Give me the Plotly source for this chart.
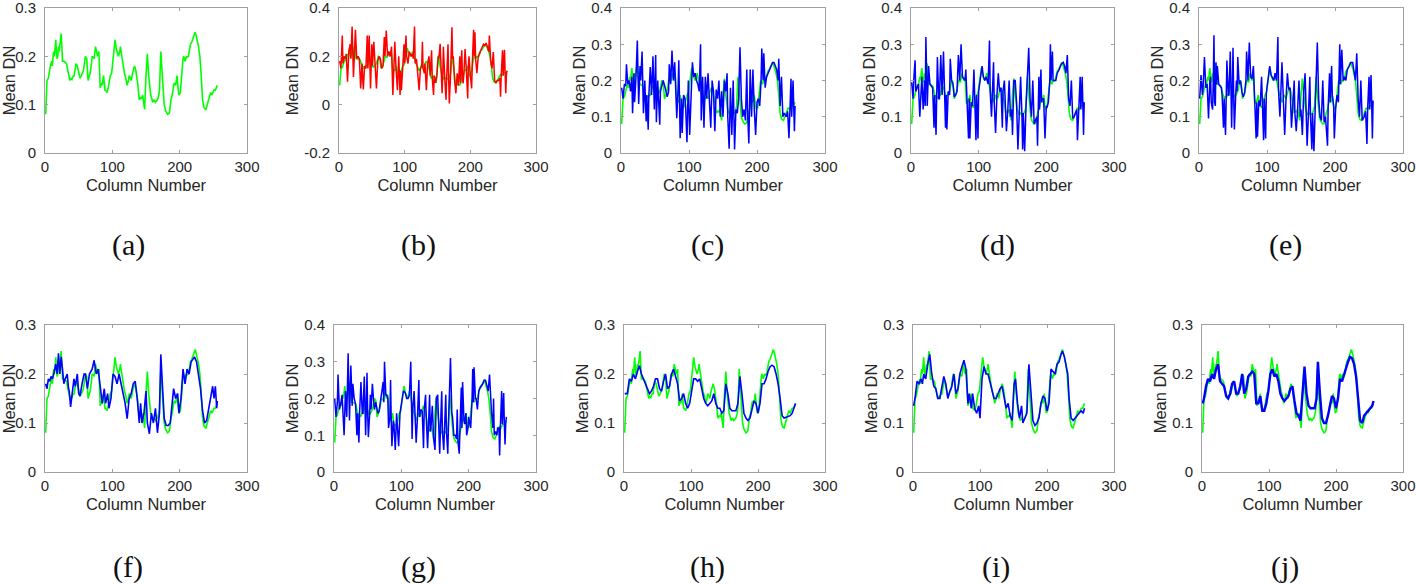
import plotly.graph_objects as go
from plotly.subplots import make_subplots

# ---------------- data (column number, mean DN) ----------------
green_pts = [(1,0.08),(2,0.13),(3,0.15),(5,0.155),(7,0.175),(8,0.18),(10,0.19),(11,0.18),(12,0.2),(13,0.21),(14,0.2),(16,0.234),(17,0.21),(18,0.195),(19,0.2),(20,0.22),(21,0.21),(22,0.22),(24,0.247),(25,0.22),(26,0.19),(28,0.19),(30,0.188),(32,0.185),(34,0.17),(35,0.16),(37,0.15),(38,0.155),(40,0.152),(42,0.16),(43,0.158),(45,0.175),(46,0.185),(48,0.18),(50,0.165),(52,0.155),(54,0.16),(55,0.165),(57,0.17),(59,0.19),(60,0.2),(62,0.195),(63,0.17),(64,0.15),(66,0.16),(67,0.165),(69,0.185),(70,0.2),(72,0.198),(73,0.195),(75,0.22),(77,0.205),(78,0.2),(80,0.21),(81,0.17),(82,0.135),(84,0.145),(85,0.14),(87,0.16),(88,0.145),(89,0.13),(91,0.128),(92,0.125),(94,0.135),(96,0.15),(97,0.16),(99,0.165),(101,0.19),(102,0.2),(104,0.234),(106,0.215),(107,0.21),(109,0.2),(111,0.21),(112,0.22),(113,0.21),(115,0.19),(117,0.17),(118,0.165),(120,0.155),(122,0.14),(124,0.15),(125,0.16),(127,0.155),(128,0.15),(130,0.165),(132,0.175),(133,0.18),(135,0.17),(137,0.155),(138,0.14),(140,0.11),(142,0.115),(143,0.112),(145,0.12),(147,0.1),(148,0.09),(150,0.16),(152,0.205),(154,0.16),(156,0.13),(157,0.12),(159,0.11),(160,0.105),(162,0.11),(164,0.105),(165,0.107),(167,0.11),(169,0.12),(170,0.13),(172,0.21),(173,0.19),(175,0.16),(177,0.1),(179,0.088),(180,0.085),(182,0.08),(184,0.082),(185,0.085),(187,0.11),(189,0.12),(191,0.14),(192,0.145),(194,0.14),(196,0.16),(198,0.13),(199,0.12),(201,0.125),(203,0.17),(205,0.195),(206,0.2),(208,0.19),(210,0.2),(211,0.198),(213,0.2),(215,0.22),(216,0.225),(218,0.23),(220,0.24),(221,0.245),(223,0.25),(225,0.24),(226,0.235),(228,0.22),(229,0.21),(230,0.2),(232,0.16),(234,0.11),(236,0.095),(237,0.092),(239,0.09),(241,0.1),(242,0.105),(244,0.11),(246,0.125),(248,0.12),(249,0.125),(251,0.13),(253,0.13),(255,0.135),(256,0.14)]

b_pts = [(1,0.18),(3,0.15),(5,0.286),(6,0.17),(8,0.2),(10,0.19),(11,0.21),(13,0.095),(15,0.22),(17,0.25),(18,0.19),(20,0.323),(22,0.115),(23,0.2),(25,0.31),(27,0.19),(29,0.2),(31,0.19),(33,0.067),(35,0.17),(37,0.063),(39,0.16),(41,0.15),(43,0.286),(44,0.15),(46,0.286),(48,0.067),(50,0.25),(51,0.16),(53,0.26),(55,0.16),(57,0.067),(59,0.18),(61,0.2),(63,0.19),(65,0.15),(67,0.16),(69,0.28),(70,0.2),(72,0.307),(74,0.2),(76,0.22),(78,0.2),(80,0.24),(82,0.04),(83,0.15),(85,0.26),(87,0.14),(89,0.06),(91,0.2),(93,0.04),(94,0.14),(95,0.06),(97,0.15),(99,0.25),(100,0.17),(102,0.286),(103,0.2),(105,0.17),(107,0.22),(109,0.2),(110,0.2),(112,0.21),(113,0.19),(115,0.323),(116,0.17),(118,0.19),(119,0.16),(120,0.15),(122,0.06),(124,0.15),(126,0.16),(127,0.26),(128,0.15),(130,0.13),(131,0.17),(133,0.06),(135,0.17),(137,0.2),(139,0.12),(141,0.225),(142,0.11),(144,0.04),(145,0.12),(147,0.09),(149,0.12),(151,0.2),(152,0.19),(154,0.252),(155,0.16),(157,0.047),(158,0.12),(159,0.24),(161,0.11),(163,0.02),(164,0.11),(166,0.25),(167,0.11),(168,0.005),(170,0.13),(172,0.32),(173,0.19),(174,0.2),(176,0.1),(178,0.047),(179,0.09),(180,0.13),(182,0.08),(184,0.2),(185,0.09),(187,0.225),(188,0.11),(189,0.088),(190,0.12),(192,0.23),(194,0.14),(196,0.026),(197,0.16),(198,0.2),(200,0.12),(202,0.067),(203,0.17),(205,0.31),(206,0.2),(207,0.3),(208,0.19),(210,0.13),(212,0.2),(215,0.22),(217,0.23),(220,0.25),(222,0.245),(224,0.255),(226,0.24),(228,0.22),(229,0.286),(231,0.18),(233,0.15),(235,0.218),(237,0.1),(239,0.09),(241,0.1),(243,0.1),(245,0.11),(246,0.033),(247,0.12),(249,0.225),(250,0.12),(252,0.227),(253,0.13),(254,0.047),(255,0.13),(256,0.14)]

c_pts = [(1,0.18),(3,0.15),(5,0.19),(7,0.185),(8,0.245),(10,0.19),(12,0.2),(14,0.17),(16,0.21),(17,0.11),(19,0.22),(20,0.14),(22,0.21),(24,0.31),(26,0.135),(28,0.24),(29,0.2),(31,0.28),(33,0.11),(35,0.2),(37,0.087),(38,0.16),(40,0.064),(41,0.16),(43,0.237),(45,0.16),(47,0.267),(49,0.12),(51,0.27),(52,0.085),(54,0.2),(57,0.078),(58,0.17),(60,0.19),(62,0.2),(65,0.18),(68,0.155),(70,0.17),(71,0.245),(73,0.19),(75,0.283),(77,0.2),(79,0.25),(80,0.2),(82,0.096),(84,0.18),(85,0.256),(87,0.041),(89,0.15),(90,0.055),(92,0.16),(94,0.15),(95,0.13),(97,0.03),(99,0.2),(101,0.05),(103,0.16),(105,0.25),(107,0.21),(109,0.22),(111,0.2),(113,0.19),(115,0.17),(117,0.3),(118,0.09),(120,0.21),(121,0.15),(122,0.07),(124,0.21),(126,0.15),(128,0.22),(130,0.13),(132,0.07),(134,0.2),(136,0.17),(138,0.06),(140,0.175),(142,0.15),(144,0.2),(146,0.1),(148,0.17),(150,0.1),(152,0.2),(154,0.17),(156,0.22),(157,0.1),(159,0.012),(161,0.18),(163,0.05),(165,0.2),(167,0.01),(169,0.12),(171,0.11),(173,0.15),(175,0.292),(177,0.15),(179,0.1),(181,0.12),(183,0.09),(185,0.23),(186,0.12),(188,0.026),(190,0.23),(192,0.1),(194,0.23),(196,0.12),(198,0.05),(200,0.14),(202,0.15),(204,0.13),(206,0.2),(207,0.288),(209,0.2),(210,0.275),(212,0.18),(214,0.21),(217,0.225),(220,0.235),(223,0.25),(225,0.25),(227,0.24),(229,0.23),(231,0.2),(232,0.26),(234,0.13),(236,0.21),(238,0.1),(240,0.11),(243,0.1),(245,0.115),(247,0.041),(248,0.12),(250,0.205),(251,0.1),(253,0.2),(255,0.06),(256,0.13)]

d_pts = [(1,0.195),(3,0.15),(4,0.2),(6,0.256),(7,0.17),(9,0.18),(11,0.19),(13,0.1),(15,0.2),(16,0.21),(18,0.12),(20,0.2),(21,0.13),(22,0.32),(24,0.13),(26,0.24),(28,0.19),(30,0.185),(32,0.18),(34,0.07),(35,0.16),(37,0.05),(38,0.16),(39,0.265),(41,0.15),(42,0.15),(44,0.27),(46,0.16),(48,0.28),(50,0.16),(51,0.07),(52,0.16),(53,0.065),(55,0.17),(57,0.16),(58,0.26),(60,0.2),(62,0.19),(64,0.155),(66,0.16),(68,0.17),(70,0.27),(72,0.2),(74,0.3),(76,0.21),(78,0.205),(80,0.2),(81,0.23),(83,0.14),(85,0.04),(86,0.15),(87,0.04),(89,0.14),(91,0.13),(93,0.23),(94,0.13),(96,0.035),(97,0.16),(99,0.04),(100,0.17),(102,0.2),(104,0.22),(105,0.24),(107,0.21),(109,0.2),(111,0.21),(113,0.2),(114,0.19),(116,0.31),(117,0.17),(119,0.1),(120,0.16),(122,0.25),(123,0.14),(125,0.055),(127,0.16),(129,0.22),(131,0.17),(133,0.18),(135,0.07),(136,0.17),(138,0.2),(139,0.14),(141,0.06),(143,0.115),(145,0.2),(147,0.1),(149,0.12),(150,0.05),(152,0.2),(154,0.2),(156,0.14),(158,0.01),(160,0.11),(162,0.21),(164,0.1),(165,0.01),(166,0.11),(168,0.005),(170,0.13),(172,0.2),(174,0.29),(176,0.15),(178,0.1),(180,0.2),(182,0.08),(184,0.09),(186,0.1),(187,0.02),(189,0.21),(190,0.12),(192,0.23),(193,0.14),(194,0.15),(196,0.15),(198,0.04),(200,0.13),(201,0.125),(203,0.14),(205,0.195),(206,0.3),(207,0.2),(209,0.28),(210,0.2),(212,0.2),(214,0.2),(216,0.22),(219,0.23),(222,0.245),(225,0.25),(227,0.24),(229,0.22),(231,0.27),(233,0.15),(235,0.13),(237,0.2),(239,0.095),(241,0.1),(243,0.11),(245,0.12),(246,0.035),(248,0.12),(250,0.21),(251,0.12),(253,0.21),(254,0.13),(255,0.05),(256,0.14)]

e_pts = [(1,0.15),(3,0.215),(5,0.16),(6,0.18),(8,0.265),(10,0.18),(12,0.19),(14,0.095),(16,0.2),(17,0.21),(18,0.14),(20,0.12),(21,0.2),(22,0.325),(23,0.14),(24,0.13),(25,0.25),(26,0.19),(27,0.24),(29,0.19),(31,0.185),(33,0.18),(34,0.16),(36,0.07),(37,0.15),(39,0.05),(40,0.15),(41,0.255),(43,0.16),(44,0.16),(46,0.28),(47,0.17),(48,0.07),(49,0.17),(50,0.29),(51,0.16),(52,0.065),(54,0.16),(55,0.2),(56,0.17),(57,0.265),(59,0.19),(61,0.2),(63,0.17),(65,0.155),(67,0.165),(69,0.2),(70,0.28),(72,0.2),(74,0.305),(76,0.21),(78,0.205),(80,0.24),(82,0.14),(84,0.04),(85,0.14),(86,0.045),(88,0.145),(90,0.13),(92,0.21),(93,0.13),(95,0.035),(96,0.15),(98,0.04),(99,0.165),(101,0.2),(103,0.22),(104,0.24),(106,0.215),(108,0.205),(110,0.2),(112,0.22),(114,0.2),(116,0.32),(117,0.17),(119,0.1),(120,0.16),(122,0.25),(124,0.15),(126,0.05),(128,0.15),(130,0.22),(132,0.175),(134,0.18),(136,0.07),(138,0.14),(140,0.2),(141,0.11),(143,0.06),(145,0.12),(147,0.2),(149,0.1),(150,0.12),(152,0.05),(154,0.17),(156,0.22),(157,0.12),(159,0.02),(161,0.11),(163,0.21),(164,0.1),(166,0.01),(167,0.11),(169,0.005),(171,0.13),(172,0.21),(174,0.305),(176,0.15),(178,0.1),(180,0.09),(182,0.2),(184,0.085),(186,0.1),(189,0.02),(190,0.13),(192,0.22),(193,0.14),(195,0.24),(196,0.16),(198,0.13),(199,0.04),(201,0.125),(203,0.16),(205,0.14),(207,0.3),(208,0.19),(210,0.285),(212,0.2),(214,0.21),(216,0.2),(218,0.23),(221,0.24),(223,0.25),(226,0.25),(228,0.22),(230,0.2),(232,0.275),(234,0.15),(236,0.1),(238,0.2),(240,0.09),(243,0.1),(245,0.115),(247,0.025),(248,0.12),(250,0.21),(251,0.12),(253,0.215),(254,0.13),(255,0.04),(256,0.145)]

f_pts = [(1,0.18),(3,0.17),(5,0.19),(7,0.185),(9,0.195),(11,0.19),(13,0.2),(14,0.21),(16,0.22),(18,0.2),(20,0.242),(22,0.2),(24,0.235),(26,0.21),(28,0.18),(30,0.19),(33,0.2),(35,0.17),(36,0.165),(38,0.133),(40,0.16),(43,0.19),(45,0.175),(48,0.2),(50,0.16),(52,0.155),(55,0.18),(58,0.2),(60,0.2),(63,0.17),(66,0.2),(70,0.21),(73,0.228),(76,0.2),(79,0.21),(82,0.17),(85,0.14),(88,0.17),(90,0.14),(93,0.16),(95,0.13),(98,0.15),(101,0.2),(104,0.195),(107,0.18),(110,0.2),(113,0.18),(116,0.16),(119,0.14),(122,0.109),(125,0.15),(128,0.16),(131,0.18),(134,0.185),(137,0.15),(140,0.1),(142,0.14),(144,0.1),(147,0.12),(150,0.165),(152,0.1),(155,0.078),(158,0.12),(161,0.1),(164,0.13),(167,0.08),(170,0.12),(172,0.24),(175,0.15),(177,0.11),(180,0.095),(183,0.095),(186,0.1),(189,0.15),(191,0.17),(194,0.15),(197,0.16),(199,0.12),(202,0.15),(205,0.21),(208,0.18),(211,0.21),(214,0.2),(217,0.225),(220,0.23),(222,0.235),(225,0.225),(228,0.2),(231,0.17),(234,0.125),(237,0.1),(240,0.105),(243,0.13),(246,0.155),(249,0.175),(251,0.15),(253,0.175),(255,0.13),(256,0.145)]

g_pts = [(1,0.2),(3,0.15),(5,0.19),(6,0.265),(8,0.17),(10,0.185),(12,0.21),(13,0.17),(15,0.1),(17,0.22),(19,0.15),(21,0.323),(23,0.14),(25,0.29),(27,0.18),(28,0.24),(30,0.2),(32,0.185),(34,0.1),(35,0.16),(37,0.08),(38,0.16),(40,0.245),(42,0.16),(43,0.16),(45,0.26),(46,0.17),(47,0.1),(48,0.18),(49,0.27),(50,0.16),(51,0.095),(53,0.16),(54,0.21),(55,0.17),(57,0.24),(59,0.19),(60,0.17),(62,0.19),(65,0.16),(67,0.165),(70,0.2),(73,0.245),(74,0.19),(75,0.3),(77,0.21),(78,0.21),(80,0.2),(81,0.12),(83,0.15),(84,0.25),(85,0.14),(86,0.07),(88,0.14),(89,0.13),(91,0.06),(93,0.16),(94,0.13),(96,0.07),(98,0.16),(101,0.2),(103,0.22),(104,0.22),(106,0.215),(108,0.2),(110,0.2),(112,0.21),(114,0.3),(116,0.09),(117,0.17),(119,0.22),(120,0.15),(122,0.08),(124,0.15),(126,0.25),(127,0.15),(129,0.17),(131,0.165),(133,0.065),(134,0.17),(136,0.21),(137,0.15),(139,0.065),(140,0.11),(142,0.21),(143,0.11),(144,0.12),(146,0.18),(148,0.09),(150,0.06),(152,0.2),(154,0.21),(156,0.13),(157,0.05),(158,0.11),(160,0.22),(161,0.11),(163,0.06),(164,0.11),(166,0.21),(167,0.11),(169,0.05),(170,0.13),(173,0.31),(175,0.16),(176,0.15),(178,0.1),(180,0.1),(182,0.09),(183,0.17),(184,0.085),(186,0.05),(187,0.11),(189,0.23),(190,0.12),(191,0.245),(193,0.14),(194,0.13),(196,0.16),(197,0.1),(199,0.12),(200,0.15),(202,0.13),(203,0.12),(205,0.195),(206,0.28),(207,0.19),(208,0.285),(210,0.2),(211,0.2),(213,0.17),(215,0.22),(217,0.23),(219,0.235),(221,0.24),(223,0.25),(225,0.25),(227,0.235),(229,0.22),(231,0.265),(233,0.16),(234,0.16),(236,0.12),(237,0.2),(238,0.1),(240,0.11),(242,0.1),(243,0.12),(245,0.12),(246,0.045),(247,0.12),(249,0.22),(250,0.13),(252,0.215),(253,0.13),(254,0.075),(255,0.13),(256,0.15)]

h_pts = [(1,0.16),(5,0.16),(8,0.19),(11,0.185),(14,0.2),(17,0.19),(20,0.205),(23,0.217),(26,0.2),(29,0.19),(32,0.18),(35,0.17),(38,0.16),(41,0.165),(44,0.175),(47,0.19),(50,0.19),(53,0.17),(56,0.165),(59,0.185),(62,0.2),(65,0.17),(68,0.175),(71,0.2),(74,0.21),(77,0.195),(80,0.18),(83,0.145),(86,0.15),(89,0.16),(92,0.14),(95,0.13),(98,0.14),(101,0.165),(104,0.19),(107,0.19),(110,0.185),(113,0.19),(116,0.17),(119,0.15),(122,0.14),(125,0.135),(128,0.14),(131,0.145),(134,0.16),(137,0.14),(140,0.13),(143,0.13),(146,0.12),(149,0.125),(152,0.18),(155,0.16),(158,0.13),(161,0.125),(164,0.125),(167,0.125),(170,0.14),(173,0.195),(176,0.16),(179,0.12),(182,0.11),(185,0.105),(188,0.11),(191,0.13),(194,0.145),(197,0.14),(200,0.12),(203,0.14),(206,0.18),(209,0.18),(212,0.19),(215,0.205),(218,0.215),(221,0.218),(224,0.215),(227,0.2),(230,0.18),(233,0.15),(236,0.115),(239,0.11),(242,0.112),(245,0.113),(248,0.115),(251,0.12),(254,0.13),(256,0.14)]

i_pts = [(1,0.135),(3,0.15),(6,0.185),(9,0.18),(12,0.19),(14,0.18),(16,0.2),(19,0.19),(22,0.22),(25,0.24),(28,0.2),(31,0.175),(34,0.17),(37,0.15),(40,0.15),(43,0.175),(46,0.195),(49,0.18),(52,0.15),(55,0.165),(58,0.175),(61,0.2),(64,0.16),(67,0.17),(70,0.2),(73,0.215),(76,0.228),(79,0.21),(82,0.14),(84,0.16),(87,0.13),(89,0.16),(92,0.13),(95,0.12),(98,0.135),(100,0.11),(103,0.19),(106,0.215),(109,0.2),(112,0.2),(115,0.185),(118,0.17),(121,0.15),(124,0.15),(127,0.16),(130,0.17),(133,0.175),(136,0.15),(139,0.13),(142,0.14),(145,0.115),(148,0.105),(151,0.18),(153,0.19),(156,0.14),(159,0.11),(162,0.135),(164,0.1),(167,0.11),(170,0.12),(173,0.22),(176,0.16),(179,0.105),(182,0.095),(185,0.1),(188,0.11),(191,0.14),(194,0.155),(197,0.15),(200,0.125),(203,0.14),(206,0.21),(209,0.205),(212,0.2),(215,0.22),(218,0.225),(221,0.24),(223,0.247),(226,0.235),(229,0.21),(231,0.2),(233,0.15),(236,0.11),(239,0.105),(242,0.11),(245,0.115),(248,0.12),(251,0.125),(254,0.12),(256,0.13)]

j_pts = [(1,0.14),(3,0.15),(6,0.175),(9,0.19),(12,0.185),(15,0.2),(18,0.19),(21,0.21),(24,0.22),(27,0.185),(30,0.18),(33,0.175),(36,0.155),(39,0.15),(42,0.16),(45,0.18),(48,0.185),(51,0.16),(54,0.16),(57,0.175),(60,0.2),(63,0.16),(66,0.17),(69,0.195),(72,0.2),(75,0.205),(78,0.2),(81,0.14),(84,0.14),(87,0.155),(90,0.125),(93,0.125),(96,0.14),(99,0.165),(102,0.2),(105,0.21),(108,0.195),(111,0.2),(114,0.185),(117,0.16),(120,0.15),(123,0.145),(126,0.15),(129,0.155),(132,0.17),(135,0.175),(138,0.145),(141,0.12),(144,0.115),(147,0.105),(150,0.16),(153,0.215),(156,0.16),(159,0.135),(162,0.13),(165,0.13),(168,0.13),(171,0.15),(173,0.225),(176,0.16),(179,0.11),(182,0.1),(185,0.1),(188,0.115),(191,0.135),(194,0.155),(197,0.15),(200,0.13),(203,0.15),(206,0.19),(209,0.185),(212,0.2),(215,0.21),(218,0.225),(221,0.235),(224,0.232),(227,0.22),(230,0.195),(233,0.15),(236,0.105),(239,0.1),(242,0.115),(245,0.12),(248,0.125),(251,0.13),(254,0.135),(256,0.145)]

captions = ["(a)", "(b)", "(c)", "(d)", "(e)", "(f)", "(g)", "(h)", "(i)", "(j)"]
x_ticks = [0, 100, 200, 300]
y_ticks_03 = [0, 0.1, 0.2, 0.3]
y_ticks_04 = [0, 0.1, 0.2, 0.3, 0.4]
y_ticks_b = [-0.2, 0, 0.2, 0.4]

# ---------------- layout helpers ----------------
W, H = 1416, 585
# plot boxes in pixels: (left, right, top, bottom)
boxes = [
    (45, 247, 8, 153), (339, 536, 8, 153), (621, 825, 8, 153), (911, 1114, 8, 153), (1199, 1403, 8, 153),
    (45, 247, 325, 472), (334, 536, 325, 472), (624, 825, 325, 472), (913, 1114, 325, 472), (1202, 1403, 325, 472),
]
panel_series = [None, b_pts, c_pts, d_pts, e_pts, f_pts, g_pts, h_pts, i_pts, j_pts]
panel_color = [None, "#ff0000"] + ["#0000ff"] * 8
panel_width = [None, 1.5, 1.5, 1.5, 1.5, 1.6, 1.5, 1.6, 1.6, 2.4]
yticks = [y_ticks_03, y_ticks_b, y_ticks_04, y_ticks_04, y_ticks_04,
          y_ticks_03, y_ticks_04, y_ticks_03, y_ticks_03, y_ticks_03]


def fmt(v):
    if v == 0:
        return "0"
    return ("-" if v < 0 else "") + ("%g" % abs(v))


fig = make_subplots(rows=2, cols=5)

gx, gy = zip(*green_pts)
for k in range(10):
    r, c = k // 5 + 1, k % 5 + 1
    fig.add_trace(go.Scatter(x=gx, y=gy, mode="lines", line=dict(color="#00ff00", width=1.6),
                             showlegend=False, hoverinfo="skip"), row=r, col=c)
    if panel_series[k] is not None:
        sx, sy = zip(*panel_series[k])
        fig.add_trace(go.Scatter(x=sx, y=sy, mode="lines",
                                 line=dict(color=panel_color[k], width=panel_width[k]),
                                 showlegend=False), row=r, col=c)

axis_col = "#a0a0a0"
tick_font = dict(family="Liberation Sans, Arial, sans-serif", size=15, color="#262626")
title_font = dict(family="Liberation Sans, Arial, sans-serif", size=16.5, color="#262626")

for k in range(10):
    L, R, T, B = boxes[k]
    xd = [L / W, R / W]
    yd = [1 - B / H, 1 - T / H]
    yt = yticks[k]
    n = k + 1
    xname = "xaxis" if n == 1 else "xaxis%d" % n
    yname = "yaxis" if n == 1 else "yaxis%d" % n
    fig.layout[xname].update(
        domain=xd, range=[0, 300], tickvals=x_ticks, ticktext=[fmt(v) for v in x_ticks],
        showgrid=False, zeroline=False, showline=True, linecolor=axis_col, linewidth=1,
        mirror="ticks", ticks="inside", ticklen=3, tickcolor=axis_col, tickfont=tick_font,
        ticklabelstandoff=0, automargin=False, ticklabeloverflow="allow",
        title=dict(text="Column Number", font=title_font, standoff=5),
    )
    fig.layout[yname].update(
        domain=yd, range=[yt[0], yt[-1]], tickvals=yt, ticktext=[fmt(v) for v in yt],
        showgrid=False, zeroline=False, showline=True, linecolor=axis_col, linewidth=1,
        mirror="ticks", ticks="inside", ticklen=3, tickcolor=axis_col, tickfont=tick_font,
        ticklabelstandoff=5, automargin=False, ticklabeloverflow="allow",
        title=dict(text="Mean DN", font=title_font, standoff=1),
    )

# panel captions
cap_x = [128, 418, 707, 997, 1285, 128, 418, 707, 996, 1285]
cap_y = [245, 245, 245, 245, 245, 567, 567, 567, 567, 567]
for k in range(10):
    fig.add_annotation(text=captions[k], x=cap_x[k] / W, y=1 - cap_y[k] / H, xref="paper", yref="paper",
                       showarrow=False, xanchor="center", yanchor="middle",
                       font=dict(family="Liberation Serif, Times New Roman, serif", size=30, color="#111111"))

fig.update_layout(width=W, height=H, margin=dict(l=0, r=0, t=0, b=0),
                  plot_bgcolor="white", paper_bgcolor="white", showlegend=False)

fig.write_html("out.html", config={"displayModeBar": False},
               post_script="document.body.style.margin='0';")
